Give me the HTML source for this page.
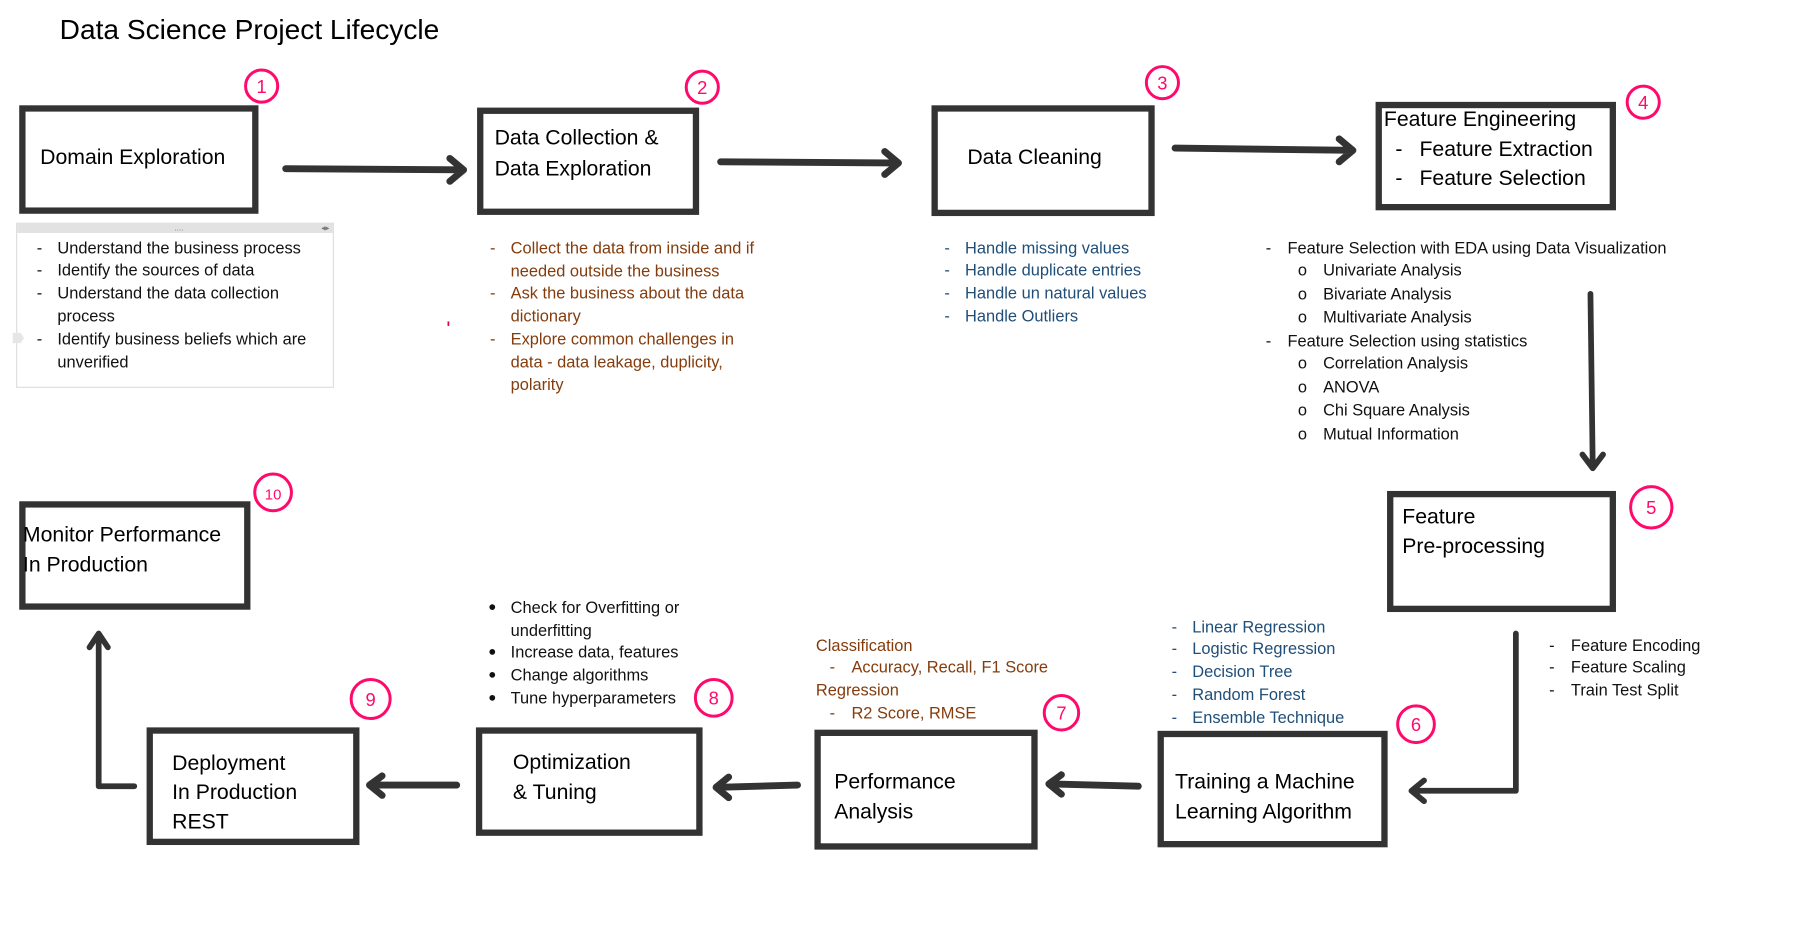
<!DOCTYPE html>
<html><head><meta charset="utf-8"><style>
html,body{margin:0;padding:0;background:#fff;}
svg{display:block}
text{font-family:"Liberation Sans",sans-serif;}
.b{font-size:14.3px;fill:#111}
.r{font-size:14.3px;fill:#843c0c}
.u{font-size:14.3px;fill:#1f4e79}
.L{font-size:18.5px;fill:#000}
.box{fill:#fff;stroke:#333;stroke-width:5.5}
.ar{fill:none;stroke:#333;stroke-width:6;stroke-linecap:round;stroke-linejoin:round}
.c{fill:none;stroke:#ff0a6c;stroke-width:2.6}
.n{font-size:16px;fill:#ff0a6c;text-anchor:middle}
</style></head><body>
<svg width="1797" height="940" viewBox="0 0 1566 819" preserveAspectRatio="none" xmlns="http://www.w3.org/2000/svg">
<text x="52" y="34" style="font-size:24.5px;fill:#000">Data Science Project Lifecycle</text>

<rect class="box" x="19.5" y="94.5" width="203" height="89"/>
<text class="L" x="35" y="143">Domain Exploration</text>
<circle class="c" cx="228" cy="75" r="14"/><text class="n" x="228" y="81">1</text>
<path class="ar" d="M249 147 L403 148 M392 138 L404 148 L392 158"/>
<rect x="14.5" y="194.5" width="276" height="143" fill="#fff" stroke="#ddd"/>
<rect x="15" y="195" width="275" height="8" fill="#e2e2e2"/>
<text x="152" y="201" style="font-size:7px;fill:#777">....</text>
<text x="280" y="201" style="font-size:7px;fill:#777">◂▸</text>
<path d="M11 290 L18 290 L21 294.5 L18 299 L11 299Z" fill="#e6e6e6"/>
<g class="b">
<text x="32" y="221">-</text><text x="50" y="221">Understand the business process</text>
<text x="32" y="240">-</text><text x="50" y="240">Identify the sources of data</text>
<text x="32" y="260">-</text><text x="50" y="260">Understand the data collection</text>
<text x="50" y="280">process</text>
<text x="32" y="300">-</text><text x="50" y="300">Identify business beliefs which are</text>
<text x="50" y="320">unverified</text>
</g>

<rect class="box" x="418.5" y="96.5" width="188" height="88"/>
<text class="L" x="431" y="126">Data Collection &amp;</text>
<text class="L" x="431" y="153">Data Exploration</text>
<circle class="c" cx="612" cy="76" r="14"/><text class="n" x="612" y="82">2</text>
<path class="ar" d="M628 141 L782 142 M771 132 L783 142 L771 152"/>
<g class="r">
<text x="427" y="221">-</text><text x="445" y="221">Collect the data from inside and if</text>
<text x="445" y="241">needed outside the business</text>
<text x="427" y="260">-</text><text x="445" y="260">Ask the business about the data</text>
<text x="445" y="280">dictionary</text>
<text x="427" y="300">-</text><text x="445" y="300">Explore common challenges in</text>
<text x="445" y="320">data - data leakage, duplicity,</text>
<text x="445" y="340">polarity</text>
</g>
<rect x="390" y="280" width="1.5" height="4" fill="#e0005a"/>

<rect class="box" x="814.5" y="94.5" width="189" height="91"/>
<text class="L" x="843" y="143">Data Cleaning</text>
<circle class="c" cx="1013" cy="72" r="14"/><text class="n" x="1013" y="78">3</text>
<path class="ar" d="M1024 129 L1178 131 M1167 121 L1179 131 L1167 141"/>
<g class="u">
<text x="823" y="221">-</text><text x="841" y="221">Handle missing values</text>
<text x="823" y="240">-</text><text x="841" y="240">Handle duplicate entries</text>
<text x="823" y="260">-</text><text x="841" y="260">Handle un natural values</text>
<text x="823" y="280">-</text><text x="841" y="280">Handle Outliers</text>
</g>

<rect class="box" x="1201.5" y="91.5" width="204" height="89"/>
<text class="L" x="1206" y="110">Feature Engineering</text>
<text class="L" x="1216" y="136">-</text><text class="L" x="1237" y="136">Feature Extraction</text>
<text class="L" x="1216" y="161">-</text><text class="L" x="1237" y="161">Feature Selection</text>
<circle class="c" cx="1432" cy="89" r="14"/><text class="n" x="1432" y="95">4</text>
<g class="b">
<text x="1103" y="221">-</text><text x="1122" y="221">Feature Selection with EDA using Data Visualization</text>
<text x="1131" y="240">o</text><text x="1153" y="240">Univariate Analysis</text>
<text x="1131" y="261">o</text><text x="1153" y="261">Bivariate Analysis</text>
<text x="1131" y="281">o</text><text x="1153" y="281">Multivariate Analysis</text>
<text x="1103" y="302">-</text><text x="1122" y="302">Feature Selection using statistics</text>
<text x="1131" y="321">o</text><text x="1153" y="321">Correlation Analysis</text>
<text x="1131" y="342">o</text><text x="1153" y="342">ANOVA</text>
<text x="1131" y="362">o</text><text x="1153" y="362">Chi Square Analysis</text>
<text x="1131" y="383">o</text><text x="1153" y="383">Mutual Information</text>
</g>
<path class="ar" d="M1386 256 L1388 408 M1379 396 L1388 408 L1397 396" style="stroke-width:5"/>

<rect class="box" x="1211.5" y="430.5" width="194" height="100"/>
<text class="L" x="1222" y="456">Feature</text>
<text class="L" x="1222" y="482">Pre-processing</text>
<circle class="c" cx="1439" cy="442" r="18"/><text class="n" x="1439" y="448">5</text>
<path class="ar" d="M1321 552 L1321 689 L1231 689 M1241 680 L1230 689 L1241 698" style="stroke-width:5"/>
<g class="b">
<text x="1350" y="567">-</text><text x="1369" y="567">Feature Encoding</text>
<text x="1350" y="586">-</text><text x="1369" y="586">Feature Scaling</text>
<text x="1350" y="606">-</text><text x="1369" y="606">Train Test Split</text>
</g>

<rect class="box" x="1011.5" y="639.5" width="195" height="96"/>
<text class="L" x="1024" y="687">Training a Machine</text>
<text class="L" x="1024" y="713">Learning Algorithm</text>
<circle class="c" cx="1234" cy="631" r="16"/><text class="n" x="1234" y="637">6</text>
<g class="u">
<text x="1021" y="551">-</text><text x="1039" y="551">Linear Regression</text>
<text x="1021" y="570">-</text><text x="1039" y="570">Logistic Regression</text>
<text x="1021" y="590">-</text><text x="1039" y="590">Decision Tree</text>
<text x="1021" y="610">-</text><text x="1039" y="610">Random Forest</text>
<text x="1021" y="630">-</text><text x="1039" y="630">Ensemble Technique</text>
</g>
<path class="ar" d="M992 685 L916 683 M925 675 L914 683 L925 692"/>

<rect class="box" x="712.5" y="638.5" width="189" height="99"/>
<text class="L" x="727" y="687">Performance</text>
<text class="L" x="727" y="713">Analysis</text>
<circle class="c" cx="925" cy="621" r="15"/><text class="n" x="925" y="627">7</text>
<g class="r">
<text x="711" y="567">Classification</text>
<text x="723" y="586">-</text><text x="742" y="586">Accuracy, Recall, F1 Score</text>
<text x="711" y="606">Regression</text>
<text x="723" y="626">-</text><text x="742" y="626">R2 Score, RMSE</text>
</g>
<path class="ar" d="M695 684 L626 686 M635 677 L624 686 L635 695"/>

<rect class="box" x="417.5" y="636.5" width="192" height="89"/>
<text class="L" x="447" y="670">Optimization</text>
<text class="L" x="447" y="696">&amp; Tuning</text>
<circle class="c" cx="622" cy="608" r="16"/><text class="n" x="622" y="614">8</text>
<g class="b">
<circle cx="429" cy="529" r="2.5" fill="#111"/><text x="445" y="534">Check for Overfitting or</text>
<text x="445" y="554">underfitting</text>
<circle cx="429" cy="568" r="2.5" fill="#111"/><text x="445" y="573">Increase data, features</text>
<circle cx="429" cy="588" r="2.5" fill="#111"/><text x="445" y="593">Change algorithms</text>
<circle cx="429" cy="608" r="2.5" fill="#111"/><text x="445" y="613">Tune hyperparameters</text>
</g>
<path class="ar" d="M398 684 L324 684 M333 676 L322 684 L333 693"/>

<rect class="box" x="130.5" y="636.5" width="180" height="97"/>
<text class="L" x="150" y="671">Deployment</text>
<text class="L" x="150" y="696">In Production</text>
<text class="L" x="150" y="722">REST</text>
<circle class="c" cx="323" cy="609" r="17"/><text class="n" x="323" y="615">9</text>
<path class="ar" d="M117 685 L86 685 L86 553 M78 564 L86 552 L94 564" style="stroke-width:5"/>

<rect class="box" x="19.5" y="439.5" width="196" height="89"/>
<text class="L" x="20" y="472">Monitor Performance</text>
<text class="L" x="20" y="498">In Production</text>
<rect x="17" y="460" width="3" height="44" fill="#333"/>
<circle class="c" cx="238" cy="429" r="16"/><text class="n" x="238" y="435" style="font-size:13px">10</text>
</svg>
</body></html>
